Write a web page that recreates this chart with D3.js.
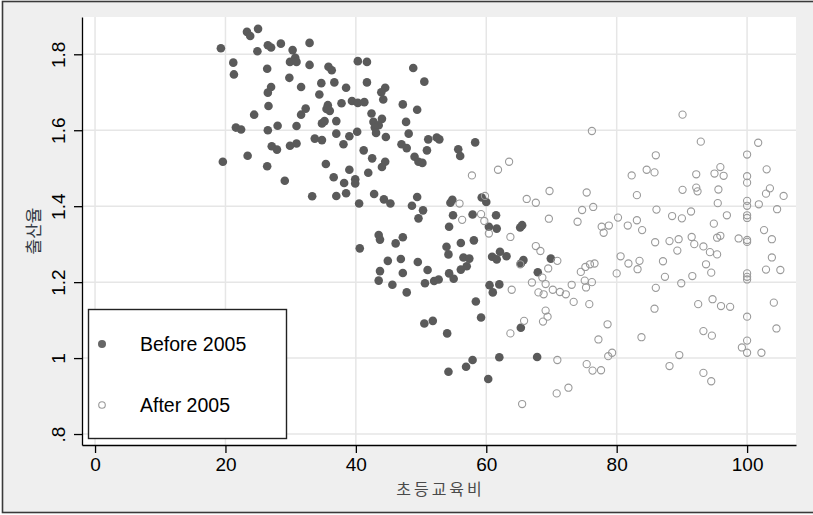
<!DOCTYPE html>
<html>
<head>
<meta charset="utf-8">
<script src="https://cdn.jsdelivr.net/npm/d3@7"></script>
<style>
  html, body { margin: 0; padding: 0; background: #ffffff; }
  svg { display: block; }
</style>
</head>
<body>
<svg id="chart" width="813" height="515"></svg>
<script>
// 초등교육비 (x) vs 출산율 (y), before and after 2005
const before2005 = [
  [19.3,1.816],[23.3,1.859],[23.8,1.848],[25.0,1.867],[24.9,1.808],[26.5,1.824],[27.0,1.818],[28.5,1.828],
  [30.3,1.811],[32.9,1.830],[21.2,1.778],[21.3,1.747],[26.4,1.762],[29.9,1.780],[30.7,1.791],[30.9,1.780],
  [32.9,1.772],[35.8,1.767],[36.3,1.758],[40.3,1.782],[41.7,1.780],[29.8,1.738],[31.6,1.714],[34.7,1.724],
  [36.7,1.726],[38.5,1.712],[41.7,1.726],[27.0,1.714],[26.5,1.699],[34.4,1.694],[26.6,1.664],[24.4,1.641],
  [32.3,1.657],[31.6,1.641],[35.7,1.666],[36.0,1.651],[35.5,1.656],[37.8,1.671],[39.4,1.677],[40.3,1.672],
  [41.3,1.674],[21.6,1.607],[22.4,1.602],[26.5,1.600],[28.0,1.612],[30.9,1.611],[34.8,1.618],[35.2,1.624],
  [37.0,1.624],[37.0,1.591],[39.0,1.584],[40.2,1.596],[38.1,1.563],[33.7,1.578],[34.8,1.574],[27.1,1.558],
  [27.9,1.549],[29.9,1.559],[30.9,1.565],[23.4,1.533],[19.6,1.517],[26.4,1.505],[29.1,1.467],[35.4,1.511],
  [36.6,1.476],[39.0,1.496],[38.2,1.461],[39.9,1.471],[39.9,1.460],[41.2,1.547],[41.9,1.488],[33.3,1.426],
  [37.0,1.427],[38.5,1.434],
  [48.8,1.764],[50.5,1.728],[44.5,1.712],[43.9,1.700],[44.2,1.681],[47.2,1.668],[49.4,1.654],[42.4,1.644],
  [44.0,1.630],[42.7,1.622],[43.5,1.613],[42.9,1.607],[43.1,1.593],[47.7,1.622],[48.1,1.591],[44.6,1.582],
  [47.0,1.563],[47.8,1.553],[51.1,1.576],[52.4,1.581],[52.8,1.576],[50.9,1.547],[55.7,1.550],[56.0,1.532],
  [58.3,1.568],[42.5,1.526],[44.5,1.517],[44.0,1.503],[49.0,1.530],[49.6,1.517],[50.2,1.514],[42.8,1.432],
  [44.3,1.418],[49.4,1.424],[54.5,1.409],[54.8,1.417],[59.3,1.423],[60.0,1.411],
  [40.5,1.407],[45.3,1.407],[48.6,1.401],[50.3,1.389],[49.6,1.368],[54.9,1.376],[54.3,1.346],[57.9,1.378],
  [61.5,1.376],[60.4,1.346],[61.6,1.341],[43.5,1.324],[43.7,1.312],[46.1,1.302],[47.2,1.318],[40.6,1.289],
  [53.9,1.293],[54.2,1.273],[56.1,1.303],[58.1,1.310],[44.9,1.256],[46.9,1.261],[49.5,1.253],[51.0,1.232],
  [43.7,1.229],[47.2,1.224],[43.5,1.204],[45.6,1.193],[47.8,1.173],[50.6,1.197],[52.0,1.203],[52.7,1.207],
  [54.3,1.223],[55.0,1.209],[56.5,1.265],[57.4,1.262],[57.0,1.242],[56.1,1.233],[60.9,1.267],[61.6,1.260],
  [60.5,1.192],[61.0,1.173],[62.0,1.194],[58.4,1.149],[59.2,1.107],[50.5,1.091],[51.8,1.098],[54.0,1.065],
  [57.9,0.995],[56.9,0.977],[54.2,0.964],[60.3,0.945],[62.0,1.002],
  [62.1,1.280],[63.1,1.268],[65.2,1.344],[65.5,1.350],[65.7,1.258],[65.3,1.249],[69.9,1.262],[67.9,1.226],
  [65.3,1.080],[67.8,1.003]
];

const after2005 = [
  [57.8,1.481],[61.8,1.496],[63.5,1.517],[59.8,1.427],[55.9,1.407],[56.3,1.364],[59.2,1.379],[59.7,1.361],
  [60.4,1.328],[69.7,1.440],[66.2,1.419],[67.6,1.409],[75.4,1.436],[82.3,1.481],[84.6,1.496],[85.8,1.489],
  [83.1,1.429],[69.6,1.367],[74.7,1.390],[76.4,1.398],[74.0,1.359],[77.7,1.346],[78.8,1.349],[78.0,1.330],
  [80.2,1.370],[81.7,1.349],[83.1,1.363],[83.9,1.337],[63.7,1.319],[67.6,1.295],[68.3,1.282],[70.9,1.256],
  [69.5,1.236],[65.2,1.247],[74.5,1.227],[75.2,1.240],[75.9,1.247],[76.6,1.249],[75.1,1.204],[76.2,1.200],
  [75.3,1.186],[80.0,1.223],[80.6,1.268],[81.8,1.249],[83.2,1.234],[83.5,1.256],[68.6,1.212],[67.0,1.199],
  [69.1,1.195],[70.2,1.180],[68.0,1.173],[68.8,1.168],[71.3,1.174],[72.2,1.168],[73.1,1.193],[73.4,1.148],
  [75.8,1.142],[63.9,1.180],[69.1,1.125],[69.4,1.109],[68.7,1.096],[65.8,1.098],[63.7,1.065],[70.9,0.995],
  [75.4,0.984],[76.3,0.967],[77.6,0.968],[78.6,1.089],[77.2,1.049],[78.7,1.005],[79.3,1.014],[83.8,1.055],
  [70.8,0.907],[72.6,0.922],[65.5,0.879],
  [76.2,1.598],[90.1,1.641],[92.9,1.570],[101.7,1.567],[86.0,1.534],[100.0,1.536],[92.2,1.484],[95.0,1.486],
  [95.9,1.503],[96.4,1.480],[100.0,1.479],[100.0,1.462],[103.0,1.497],[90.1,1.443],[92.2,1.449],[92.4,1.439],
  [95.6,1.444],[103.5,1.447],[102.9,1.433],[105.6,1.427],[95.5,1.408],[100.0,1.414],[100.0,1.401],[101.8,1.405],
  [104.6,1.392],[86.1,1.391],[88.5,1.374],[90.0,1.368],[91.4,1.386],[96.9,1.376],[100.0,1.376],[100.0,1.369],
  [94.9,1.354],[102.6,1.337],[85.9,1.305],[88.1,1.308],[89.5,1.313],[89.3,1.283],[91.5,1.319],[91.9,1.300],
  [93.3,1.294],[94.3,1.279],[95.4,1.273],[95.4,1.317],[95.9,1.322],[98.7,1.315],[100.0,1.311],[100.0,1.306],
  [103.8,1.313],[103.8,1.265],[87.1,1.255],[87.4,1.214],[91.6,1.216],[89.9,1.197],[86.0,1.185],[93.7,1.247],
  [94.5,1.225],[100.0,1.223],[100.0,1.214],[100.0,1.207],[102.9,1.233],[105.1,1.232],[104.1,1.146],[85.8,1.130],
  [92.5,1.142],[94.7,1.155],[96.0,1.137],[97.4,1.135],[100.0,1.109],[104.5,1.078],[93.3,1.071],[94.6,1.059],
  [100.0,1.046],[99.2,1.028],[100.0,1.014],[102.2,1.014],[89.6,1.008],[88.1,0.979],[93.3,0.961],[94.5,0.939]
];

const xTicks = [0, 20, 40, 60, 80, 100];
const yTicks = [0.8, 1.0, 1.2, 1.4, 1.6, 1.8];
const yTickLabels = [".8", "1", "1.2", "1.4", "1.6", "1.8"];
const seriesNames = ["Before 2005", "After 2005"];
const xTitle = "초등교육비";
const yTitle = "출산율";

const svg = d3.select("#chart");
const W = 813, H = 515;
const plot = { left: 82, right: 796, top: 17, bottom: 445 };

// outer graph region
svg.append("rect")
  .attr("x", 2.5).attr("y", 1.5)
  .attr("width", W + 10).attr("height", 511)
  .attr("fill", "#efefef")
  .attr("stroke", "#3a3a3a").attr("stroke-width", 1.6);

// plot region
svg.append("rect")
  .attr("x", plot.left).attr("y", plot.top)
  .attr("width", plot.right - plot.left).attr("height", plot.bottom - plot.top)
  .attr("fill", "#ffffff");

const x = d3.scaleLinear().domain([-2, 107.5]).range([plot.left, plot.right]);
const y = d3.scaleLinear().domain([0.7711, 1.8982]).range([plot.bottom, plot.top]);

// grid
const grid = svg.append("g");
grid.selectAll("line.gx").data(xTicks).enter().append("line")
  .attr("x1", d => x(d)).attr("x2", d => x(d))
  .attr("y1", plot.top).attr("y2", plot.bottom)
  .attr("stroke", "#e6e6e6").attr("stroke-width", 1.5);
grid.selectAll("line.gy").data(yTicks).enter().append("line")
  .attr("x1", plot.left).attr("x2", plot.right)
  .attr("y1", d => y(d)).attr("y2", d => y(d))
  .attr("stroke", "#e6e6e6").attr("stroke-width", 1.5);

// axes
const xAxis = svg.append("g")
  .attr("transform", `translate(0,${plot.bottom})`)
  .call(d3.axisBottom(x).tickValues(xTicks).tickSize(8).tickPadding(5).tickSizeOuter(0));
xAxis.select(".domain").attr("stroke", "#000").attr("stroke-width", 1.3);
xAxis.selectAll(".tick line").attr("stroke", "#000").attr("stroke-width", 1.3);
xAxis.selectAll(".tick text")
  .attr("fill", "#000")
  .style("font-family", "'Liberation Sans', Arial, sans-serif")
  .style("font-size", "19px");

const yAxis = svg.append("g")
  .attr("transform", `translate(${plot.left},0)`)
  .call(d3.axisLeft(y).tickValues(yTicks).tickSize(8).tickSizeOuter(0)
    .tickFormat((d, i) => yTickLabels[i]));
yAxis.select(".domain").attr("stroke", "#000").attr("stroke-width", 1.3);
yAxis.selectAll(".tick line").attr("stroke", "#000").attr("stroke-width", 1.3);
yAxis.selectAll(".tick text")
  .attr("fill", "#000")
  .attr("x", 0).attr("y", -17).attr("dy", 0)
  .attr("transform", "rotate(-90)")
  .attr("text-anchor", "middle")
  .style("font-family", "'Liberation Sans', Arial, sans-serif")
  .style("font-size", "19px");

// axis titles
svg.append("text")
  .attr("x", (plot.left + plot.right) / 2 + 1.5).attr("y", 495)
  .attr("text-anchor", "middle")
  .attr("fill", "#4a4a4a")
  .style("font-family", "'Noto Sans CJK KR', sans-serif")
  .style("font-size", "16px")
  .style("letter-spacing", "3px")
  .text(xTitle);

svg.append("text")
  .attr("transform", `translate(40,${(plot.top + plot.bottom) / 2}) rotate(-90)`)
  .attr("text-anchor", "middle")
  .attr("fill", "#333a44")
  .style("font-family", "'Noto Sans CJK KR', sans-serif")
  .style("font-size", "17px")
  .text(yTitle);

// points
svg.append("g").selectAll("circle").data(before2005).enter().append("circle")
  .attr("cx", d => x(d[0])).attr("cy", d => y(d[1]))
  .attr("r", 4.3)
  .attr("fill", "#5a5a5a");

svg.append("g").selectAll("circle").data(after2005).enter().append("circle")
  .attr("cx", d => x(d[0])).attr("cy", d => y(d[1]))
  .attr("r", 3.6)
  .attr("fill", "none")
  .attr("stroke", "#9a9a9a").attr("stroke-width", 1.1);

// legend
const legend = svg.append("g");
legend.append("rect")
  .attr("x", 88.5).attr("y", 309.5).attr("width", 198).attr("height", 129)
  .attr("fill", "#ffffff").attr("stroke", "#222").attr("stroke-width", 1.4);
const legendRows = [
  { name: seriesNames[0], cy: 344, filled: true },
  { name: seriesNames[1], cy: 405, filled: false }
];
legendRows.forEach(r => {
  legend.append("circle")
    .attr("cx", 102).attr("cy", r.cy)
    .attr("r", r.filled ? 4 : 3.3)
    .attr("fill", r.filled ? "#666" : "none")
    .attr("stroke", r.filled ? "none" : "#9a9a9a")
    .attr("stroke-width", 1.1);
  legend.append("text")
    .attr("x", 140).attr("y", r.cy + 7)
    .attr("fill", "#000")
    .style("font-family", "'Liberation Sans', Arial, sans-serif")
    .style("font-size", "19.5px")
    .text(r.name);
});
</script>
</body>
</html>
